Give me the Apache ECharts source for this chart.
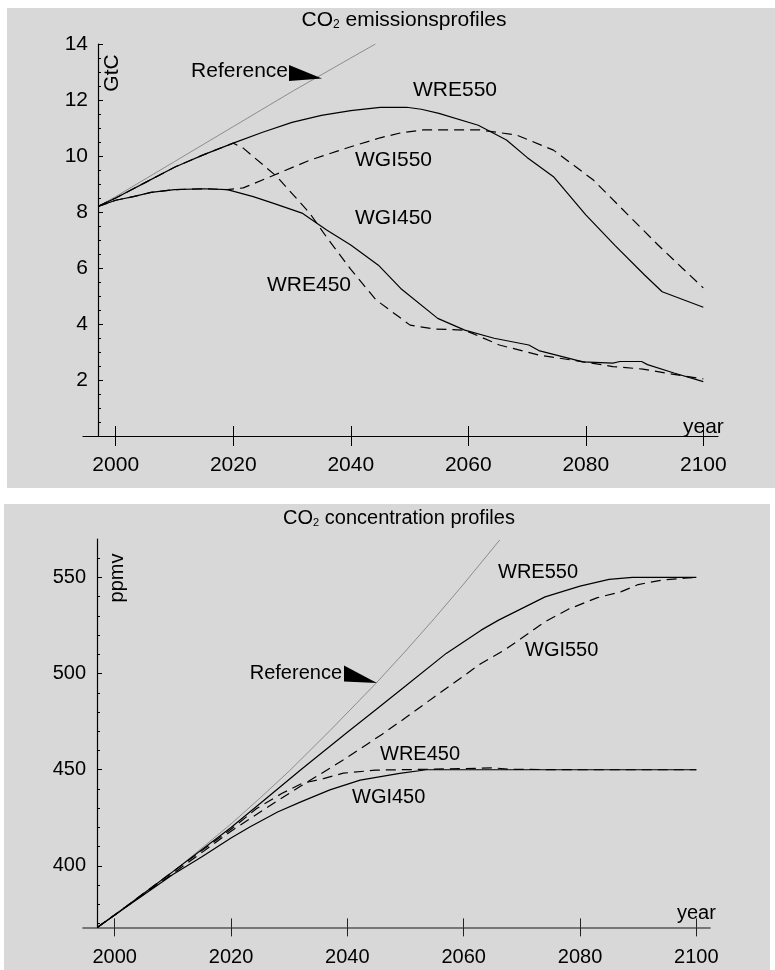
<!DOCTYPE html>
<html>
<head>
<meta charset="utf-8">
<script src="https://cdn.jsdelivr.net/npm/echarts@6/dist/echarts.min.js"></script>
<style>
html,body{margin:0;padding:0;background:#fff;}
#c{width:775px;height:970px;}
</style>
</head>
<body>
<div id="c"></div>
<script>
// ---------- DATA ----------
const xTickYears = [2000, 2020, 2040, 2060, 2080, 2100];
const emisTicks = [2, 4, 6, 8, 10, 12, 14];
const concTicks = [400, 450, 500, 550];
const concMinorTicks = [370, 380, 390, 410, 420, 430, 440, 460, 470, 480, 490, 510, 520, 530, 540, 560];

// Emissions (GtC)
const refE_years = [1997, 2000, 2010, 2020, 2030, 2040, 2044.2];
const refE = [8.2, 8.55, 9.8, 11.05, 12.3, 13.5, 14.0];

const wre550E_years = [1997, 2000, 2005, 2010, 2015, 2020, 2025, 2030, 2035, 2040, 2045, 2049.5, 2052, 2055, 2061.7, 2066.5, 2070, 2074.5, 2080, 2085, 2090, 2093, 2100];
const wre550E = [8.2, 8.5, 9.05, 9.6, 10.05, 10.46, 10.85, 11.2, 11.45, 11.62, 11.74, 11.74, 11.67, 11.52, 11.1, 10.57, 9.95, 9.26, 7.9, 6.8, 5.75, 5.15, 4.6];

const wgi550E_years = [1997, 2000, 2003, 2006, 2010, 2015, 2019, 2021.7, 2027, 2033, 2040, 2045, 2048.4, 2052.3, 2062, 2068.2, 2074.5, 2081.3, 2085.8, 2092.3, 2096.4, 2100];
const wgi550E = [8.2, 8.42, 8.55, 8.7, 8.8, 8.83, 8.8, 8.86, 9.32, 9.85, 10.33, 10.65, 10.82, 10.93, 10.93, 10.75, 10.21, 9.14, 8.19, 6.82, 6.0, 5.29];

const wgi450E_years = [1997, 2000, 2003, 2006, 2010, 2015, 2019, 2023.4, 2027, 2031.7, 2035.9, 2040, 2044.7, 2048.5, 2054.8, 2059.4, 2064.4, 2070.3, 2072, 2079.5, 2084.6, 2085.8, 2089.5, 2090.5, 2095, 2100];
const wgi450E = [8.2, 8.42, 8.55, 8.7, 8.8, 8.83, 8.8, 8.55, 8.3, 7.96, 7.36, 6.82, 6.1, 5.27, 4.2, 3.78, 3.49, 3.25, 3.05, 2.65, 2.6, 2.66, 2.66, 2.55, 2.25, 1.94];

const wre450E_years = [1997, 2000, 2005, 2010, 2015, 2020, 2021.7, 2027.4, 2033, 2035.9, 2040, 2044.3, 2050.1, 2054.3, 2059.4, 2065.3, 2072, 2079.6, 2084.6, 2089.7, 2095, 2100];
const wre450E = [8.2, 8.5, 9.05, 9.6, 10.05, 10.46, 10.28, 9.27, 7.96, 7.1, 5.95, 4.86, 3.96, 3.82, 3.78, 3.25, 2.89, 2.65, 2.48, 2.39, 2.2, 2.04];

// Concentrations (ppmv)
const refC_years = [1997, 2000, 2010, 2020, 2025, 2030, 2037, 2045, 2050, 2055, 2060, 2066.2];
const refC = [368, 374.3, 396.8, 421.8, 435.3, 449.3, 470.3, 495.2, 511.7, 528.8, 546.6, 569.5];

const wre550C_years = [1997, 2000, 2010, 2020, 2025, 2032, 2040, 2045, 2050, 2057, 2063, 2066, 2074, 2080, 2085, 2089, 2100];
const wre550C = [368, 374.5, 397, 420, 432.4, 450, 469.5, 481.5, 493.5, 510.5, 522.6, 527.8, 539.9, 545.5, 549, 550, 550];

const wgi550C_years = [1997, 2000, 2010, 2020, 2026, 2032, 2039, 2046, 2050, 2055, 2063, 2067, 2070, 2074, 2078, 2083, 2087, 2090, 2094, 2098, 2100];
const wgi550C = [368, 374.5, 396, 418, 430, 441.5, 454.5, 468.5, 477, 488, 505.3, 512.2, 518.5, 527, 533.5, 539.5, 542.5, 546.3, 548.6, 549.6, 550];

const wre450C_years = [1997, 2000, 2010, 2020, 2024.4, 2028.7, 2032.2, 2035.9, 2039.3, 2044.9, 2049, 2055, 2063, 2065, 2068, 2080, 2100];
const wre450C = [368, 374.5, 397, 419, 429.8, 437.6, 442.9, 445.4, 448.2, 449.8, 450, 450.3, 450.8, 451, 450.2, 450, 450];

const wgi450C_years = [1997, 2000, 2010, 2015, 2020, 2023.3, 2028, 2032, 2037, 2042.2, 2049, 2053.6, 2100];
const wgi450C = [368, 374.5, 395.5, 404.7, 414.5, 420.3, 428, 433.3, 439.5, 444.6, 448.1, 450, 450];

// ---------- CHART ----------
const FONT = "'Liberation Sans', Arial, sans-serif";
const pairs = (xs, ys) => xs.map((x, i) => [x, ys[i]]);
const DASH = [10, 6];
const plain = v => String(v);

function lineSeries(xi, yi, xs, ys, opts) {
  return {
    type: 'line', xAxisIndex: xi, yAxisIndex: yi,
    data: pairs(xs, ys), showSymbol: false, symbol: 'none', smooth: false,
    silent: true,
    lineStyle: Object.assign({ color: '#000', width: 1.2, type: 'solid' }, opts || {}),
    z: 3
  };
}

function text(x, y, str, size, align, extra) {
  return Object.assign({
    type: 'text', x: x, y: y, z: 50, silent: true,
    style: { text: str, fill: '#000', font: size + 'px ' + FONT, align: align || 'left', verticalAlign: 'middle' }
  }, extra || {});
}

function title(x, y, rest, size) {
  return {
    type: 'text', x: x, y: y, z: 50, silent: true,
    style: {
      text: '{a|CO}{s|2}{a| ' + rest + '}',
      align: 'center', verticalAlign: 'middle',
      rich: {
        a: { fontSize: size, fontFamily: FONT, fill: '#000', color: '#000' },
        s: { fontSize: Math.round(size * 0.55), fontFamily: FONT, fill: '#000', color: '#000', padding: [10, 0, 0, 0] }
      }
    }
  };
}

const chart = echarts.init(document.getElementById('c'), null, { renderer: 'canvas' });

const axisFontTop = { fontSize: 21, fontFamily: FONT, color: '#000', formatter: plain };
const axisFontBot = { fontSize: 20, fontFamily: FONT, color: '#000', formatter: plain };

const option = {
  animation: false,
  backgroundColor: '#fff',
  grid: [
    { left: 83, top: 44, width: 635, height: 392, containLabel: false },
    { left: 83, top: 539, width: 627, height: 388.4, containLabel: false }
  ],
  xAxis: [
    { gridIndex: 0, type: 'value', position: 'bottom', min: 1994.43, max: 2102.5,
      axisLine: { show: true, onZero: false, lineStyle: { color: '#000', width: 1.2 } },
      axisTick: { show: true, customValues: xTickYears, length: 10, inside: false, lineStyle: { color: '#000', width: 1 } },
      axisLabel: Object.assign({ show: true, customValues: xTickYears, margin: 19 }, axisFontTop),
      splitLine: { show: false } },
    { gridIndex: 0, type: 'value', position: 'bottom', min: 1994.43, max: 2102.5,
      axisLine: { show: false, onZero: false },
      axisTick: { show: true, customValues: xTickYears, length: 10, inside: true, lineStyle: { color: '#000', width: 1 } },
      axisLabel: { show: false }, splitLine: { show: false } },
    { gridIndex: 1, type: 'value', position: 'bottom', min: 1994.55, max: 2102.35,
      axisLine: { show: true, onZero: false, lineStyle: { color: '#555', width: 1.6 } },
      axisTick: { show: true, customValues: xTickYears, length: 9, inside: false, lineStyle: { color: '#222', width: 1 } },
      axisLabel: Object.assign({ show: true, customValues: xTickYears, margin: 20 }, axisFontBot),
      splitLine: { show: false } },
    { gridIndex: 1, type: 'value', position: 'bottom', min: 1994.55, max: 2102.35,
      axisLine: { show: false, onZero: false },
      axisTick: { show: true, customValues: xTickYears, length: 9, inside: true, lineStyle: { color: '#222', width: 1 } },
      axisLabel: { show: false }, splitLine: { show: false } }
  ],
  yAxis: [
    { gridIndex: 0, type: 'value', position: 'left', min: 0, max: 14, offset: -15,
      axisLine: { show: true, onZero: false, lineStyle: { color: '#000', width: 1.2 } },
      axisTick: { show: true, customValues: emisTicks, inside: true, length: 5, lineStyle: { color: '#000' } },
      axisLabel: Object.assign({ show: true, customValues: emisTicks, margin: 10 }, axisFontTop),
      splitLine: { show: false } },
    { gridIndex: 0, type: 'value', position: 'left', min: 0, max: 14, interval: 0.5, offset: -15,
      axisLine: { show: false, onZero: false },
      axisTick: { show: true, inside: true, length: 3, lineStyle: { color: '#000' } },
      axisLabel: { show: false }, splitLine: { show: false } },
    { gridIndex: 1, type: 'value', position: 'left', min: 368, max: 570, offset: -14,
      axisLine: { show: true, onZero: false, lineStyle: { color: '#000', width: 1.2 } },
      axisTick: { show: true, customValues: concTicks, inside: true, length: 5, lineStyle: { color: '#000' } },
      axisLabel: Object.assign({ show: true, customValues: concTicks, margin: 11 }, axisFontBot),
      splitLine: { show: false } },
    { gridIndex: 1, type: 'value', position: 'left', min: 368, max: 570, offset: -14,
      axisLine: { show: false, onZero: false },
      axisTick: { show: true, customValues: concMinorTicks, inside: true, length: 3, lineStyle: { color: '#000' } },
      axisLabel: { show: false }, splitLine: { show: false } }
  ],
  series: [
    lineSeries(0, 0, refE_years, refE, { color: '#8c8c8c', width: 1 }),
    lineSeries(0, 0, wre550E_years, wre550E),
    lineSeries(0, 0, wgi450E_years, wgi450E),
    lineSeries(0, 0, wgi550E_years, wgi550E, { type: DASH }),
    lineSeries(0, 0, wre450E_years, wre450E, { type: DASH }),
    lineSeries(2, 2, refC_years, refC, { color: '#8c8c8c', width: 1 }),
    lineSeries(2, 2, wre550C_years, wre550C),
    lineSeries(2, 2, wgi450C_years, wgi450C),
    lineSeries(2, 2, wgi550C_years, wgi550C, { type: DASH }),
    lineSeries(2, 2, wre450C_years, wre450C, { type: DASH })
  ],
  graphic: [
    { type: 'rect', z: -100, silent: true, shape: { x: 7, y: 8, width: 768, height: 480 }, style: { fill: '#d8d8d8' } },
    { type: 'rect', z: -100, silent: true, shape: { x: 4, y: 504, width: 766, height: 466 }, style: { fill: '#d8d8d8' } },
    // top panel texts
    title(404, 20, 'emissionsprofiles', 21),
    text(112, 73, 'GtC', 21, 'center', { rotation: Math.PI / 2 }),
    text(288, 71, 'Reference', 21, 'right'),
    { type: 'polygon', z: 50, silent: true, shape: { points: [[289, 65], [289, 81], [322, 78.5]] }, style: { fill: '#000' } },
    text(413, 90, 'WRE550', 21, 'left'),
    text(355, 160, 'WGI550', 21, 'left'),
    text(355, 218, 'WGI450', 21, 'left'),
    text(267, 285, 'WRE450', 21, 'left'),
    text(683, 427, 'year', 21, 'left'),
    // bottom panel texts
    title(399, 518, 'concentration profiles', 20),
    text(117, 578, 'ppmv', 20, 'center', { rotation: Math.PI / 2 }),
    text(342, 673, 'Reference', 20, 'right'),
    { type: 'polygon', z: 50, silent: true, shape: { points: [[344, 665.5], [344, 681.5], [377, 683]] }, style: { fill: '#000' } },
    text(498, 572, 'WRE550', 20, 'left'),
    text(525, 650, 'WGI550', 20, 'left'),
    text(380, 754, 'WRE450', 20, 'left'),
    text(352, 797, 'WGI450', 20, 'left'),
    text(677, 913, 'year', 20, 'left')
  ]
};
chart.setOption(option);
</script>
</body>
</html>
